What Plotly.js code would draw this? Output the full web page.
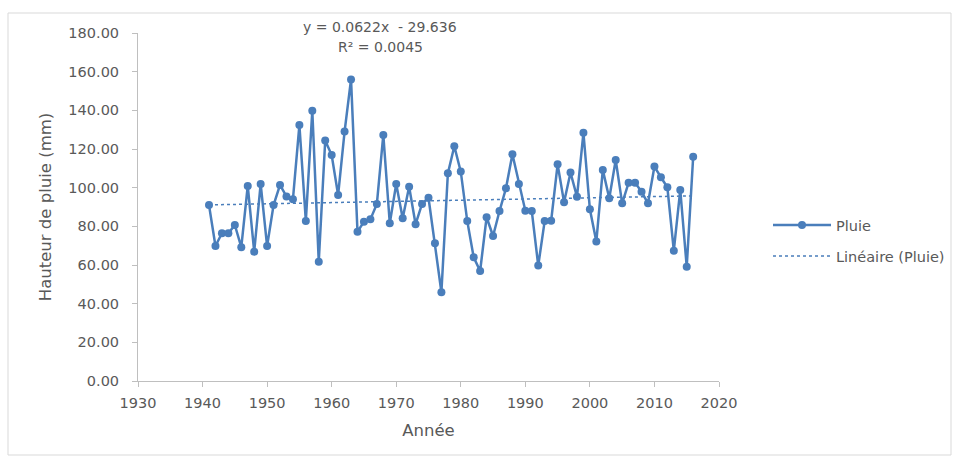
<!DOCTYPE html>
<html>
<head>
<meta charset="utf-8">
<script src="https://cdn.plot.ly/plotly-3.0.1.min.js"></script>
<style>
html,body{margin:0;padding:0;background:#fff;}
#chart{width:957px;height:458px;}
</style>
</head>
<body>
<div id="chart"></div>
<script>
var years = [1941,1942,1943,1944,1945,1946,1947,1948,1949,1950,
             1951,1952,1953,1954,1955,1956,1957,1958,1959,1960,
             1961,1962,1963,1964,1965,1966,1967,1968,1969,1970,
             1971,1972,1973,1974,1975,1976,1977,1978,1979,1980,
             1981,1982,1983,1984,1985,1986,1987,1988,1989,1990,
             1991,1992,1993,1994,1995,1996,1997,1998,1999,2000,
             2001,2002,2003,2004,2005,2006,2007,2008,2009,2010,
             2011,2012,2013,2014,2015,2016];
var pluie = [91.0,69.8,76.4,76.4,80.7,69.2,100.9,66.9,101.9,69.8,
             91.0,101.4,95.4,94.0,132.4,82.8,139.8,61.7,124.4,116.9,
             96.2,129.0,156.0,77.2,82.4,83.6,91.6,127.3,81.6,101.9,
             84.2,100.5,81.1,91.6,94.8,71.2,45.9,107.4,121.4,108.3,
             82.8,64.0,56.9,84.7,75.0,87.9,99.7,117.3,101.9,88.1,
             87.9,59.7,82.8,82.9,112.1,92.4,107.8,95.3,128.4,88.8,
             72.1,109.2,94.5,114.3,91.9,102.6,102.6,97.9,91.9,110.9,
             105.4,100.2,67.4,98.8,59.1,116.0];
var trendSlope = [0.0622];
var trendIntercept = [-29.636];
var trendX = [years[0], years[years.length-1]];
var trendY = trendX.map(function(x){ return trendSlope[0]*x + trendIntercept[0]; });
var xTicks = [1930,1940,1950,1960,1970,1980,1990,2000,2010,2020];
var yTicks = [0,20,40,60,80,100,120,140,160,180];
var yTickText = yTicks.map(function(v){ return v.toFixed(2); });

var blue = '#4a7ebb';
var font = '"DejaVu Sans", Verdana, sans-serif';
var grey = '#595959';

var L = 138, R = 238, T = 33, B = 77;
var W = 957, H = 458;
var pw = W - L - R, ph = H - T - B;
function px(x){ return (x - L) / pw; }
function py(y){ return (H - B - y) / ph; }

var traces = [
  {x: years, y: pluie, type: 'scatter', mode: 'lines+markers', name: 'Pluie',
   line: {color: blue, width: 2.5}, marker: {color: blue, size: 8},
   legend: 'legend'},
  {x: trendX, y: trendY, type: 'scatter', mode: 'lines', name: 'Linéaire (Pluie)',
   line: {color: blue, width: 1.5, dash: 'dot'}, legend: 'legend2'}
];

var layout = {
  width: W, height: H,
  margin: {l: L, r: R, t: T, b: B, pad: 0, autoexpand: false},
  paper_bgcolor: '#fff', plot_bgcolor: '#fff',
  font: {family: font, size: 14, color: grey},
  showlegend: true,
  xaxis: {range: [1930, 2020], tickvals: xTicks, ticktext: xTicks.map(String),
          showgrid: false, zeroline: false, showline: true, linecolor: '#bfbfbf', linewidth: 1,
          ticks: 'outside', ticklen: 5, tickcolor: '#bfbfbf', ticklabelstandoff: 4,
          tickfont: {family: font, size: 14.5, color: grey},
          title: {text: 'Année', font: {family: font, size: 16.5, color: grey}, standoff: 14}},
  yaxis: {range: [0, 180], tickvals: yTicks, ticktext: yTickText,
          showgrid: false, zeroline: false, showline: true, linecolor: '#bfbfbf', linewidth: 1,
          ticks: 'outside', ticklen: 5, tickcolor: '#bfbfbf', ticklabelstandoff: 10,
          tickfont: {family: font, size: 14.5, color: grey},
          title: {text: 'Hauteur de pluie (mm)', font: {family: font, size: 16.5, color: grey}, standoff: 12}},
  legend: {x: px(768), y: py(225), xanchor: 'left', yanchor: 'middle',
           font: {family: font, size: 14.5, color: grey}, itemwidth: 58, bgcolor: 'rgba(0,0,0,0)'},
  legend2: {x: px(768), y: py(256), xanchor: 'left', yanchor: 'middle',
           font: {family: font, size: 14.5, color: grey}, itemwidth: 58, bgcolor: 'rgba(0,0,0,0)'},
  annotations: [
    {xref: 'paper', yref: 'paper', x: px(380), y: py(27), text: 'y = 0.0622x  - 29.636',
     showarrow: false, font: {family: font, size: 14, color: grey}, xanchor: 'center', yanchor: 'middle'},
    {xref: 'paper', yref: 'paper', x: px(380), y: py(47), text: 'R² = 0.0045',
     showarrow: false, font: {family: font, size: 14, color: grey}, xanchor: 'center', yanchor: 'middle'}
  ],
  shapes: [
    {type: 'rect', xref: 'paper', yref: 'paper', x0: px(8), x1: px(951), y0: py(13), y1: py(455),
     line: {color: '#d9d9d9', width: 1}, fillcolor: 'rgba(0,0,0,0)', layer: 'below'}
  ]
};

Plotly.newPlot('chart', traces, layout, {displayModeBar: false, staticPlot: true});
</script>
</body>
</html>
